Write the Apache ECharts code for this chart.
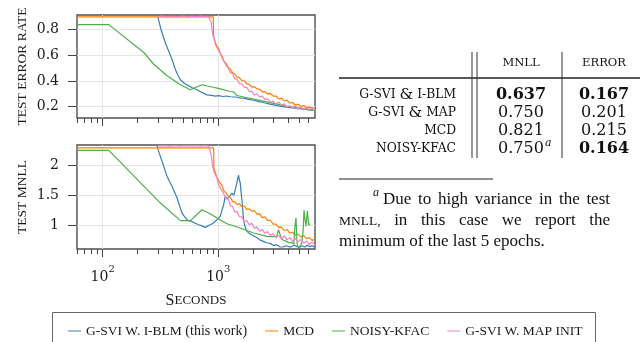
<!DOCTYPE html>
<html><head><meta charset="utf-8">
<script src="https://cdn.jsdelivr.net/npm/echarts@6/dist/echarts.min.js"></script>
<style>html,body{margin:0;padding:0;background:#fff}#c{width:640px;height:342px}</style>
</head><body><div id="c"></div>
<script>
// ---------- data ----------
const seriesNames = ['G-SVI W. I-BLM (this work)', 'MCD', 'NOISY-KFAC', 'G-SVI W. MAP INIT'];
const seriesColors = ['#377eb8', '#ff7f00', '#4daf4a', '#f781bf'];
const legendColors = ['#9bbedb', '#ffbf80', '#a6d7a4', '#fbc0df'];
const xTickMajor = [100, 1000];
const xTickMinor = [60, 70, 80, 90, 200, 300, 400, 500, 600, 700, 800, 900, 2000, 3000, 4000, 5000, 6000];
const errTicks = [0.2, 0.4, 0.6, 0.8];
const mnllTicks = [1, 1.5, 2];

const iblmErr = [[300,0.90],[320,0.80],[349,0.696],[370,0.64],[399,0.565],[426,0.487],[450,0.44],[470,0.409],[510,0.38],[555,0.362],[600,0.345],[655,0.331],[720,0.31],[798,0.291],[870,0.287],[950,0.281],[1003,0.285],[1100,0.278],[1180,0.282],[1268,0.276],[1400,0.274],[1520,0.268],[1652,0.265],[1800,0.258],[2015,0.249],[2250,0.238],[2500,0.229],[2800,0.219],[3210,0.207],[3600,0.199],[4000,0.193],[4400,0.188],[4770,0.186],[5200,0.181],[5600,0.178],[6000,0.175],[6400,0.172],[6700,0.171]];
const mcdErr = [[60,0.9],[905,0.9],[912,0.74],[940,0.704],[970,0.672],[1000,0.656],[1040,0.613],[1080,0.592],[1120,0.554],[1170,0.535],[1220,0.503],[1270,0.493],[1330,0.464],[1390,0.453],[1450,0.429],[1520,0.425],[1600,0.402],[1680,0.40],[1760,0.377],[1850,0.374],[1950,0.352],[2050,0.355],[2160,0.338],[2280,0.335],[2400,0.314],[2530,0.316],[2670,0.298],[2820,0.301],[2980,0.281],[3150,0.282],[3330,0.26],[3520,0.264],[3720,0.244],[3930,0.249],[4150,0.227],[4390,0.231],[4640,0.21],[4900,0.218],[5180,0.199],[5480,0.208],[5790,0.187],[6120,0.195],[6470,0.189],[6850,0.176]];
const kfacErr = [[60,0.84],[113,0.84],[227,0.622],[277,0.53],[361,0.44],[470,0.37],[574,0.331],[640,0.35],[722,0.37],[800,0.36],[881,0.352],[1000,0.342],[1268,0.317],[1355,0.314],[1450,0.286],[1700,0.272],[2015,0.258],[2500,0.24],[3210,0.219],[4000,0.2],[5090,0.187],[6200,0.174],[6600,0.17]];
const mapErr = [[304,0.902],[330,0.906],[360,0.899],[400,0.904],[450,0.9],[500,0.907],[550,0.9],[600,0.905],[650,0.901],[700,0.906],[760,0.902],[820,0.905],[853,0.9],[868,0.86],[880,0.81],[900,0.752],[920,0.736],[945,0.683],[970,0.679],[1000,0.641],[1040,0.621],[1080,0.578],[1120,0.563],[1170,0.52],[1220,0.498],[1270,0.465],[1330,0.457],[1390,0.416],[1450,0.414],[1520,0.379],[1600,0.377],[1680,0.349],[1760,0.35],[1850,0.317],[1950,0.32],[2050,0.29],[2160,0.299],[2280,0.274],[2400,0.281],[2530,0.256],[2670,0.26],[2820,0.233],[2980,0.241],[3150,0.219],[3330,0.234],[3520,0.211],[3720,0.22],[3930,0.194],[4150,0.207],[4390,0.188],[4640,0.206],[4900,0.178],[5180,0.196],[5480,0.172],[5790,0.199],[6120,0.173],[6470,0.194],[6850,0.174]];

const iblmMnll = [[295,2.34],[310,2.2],[327,2.073],[345,1.93],[361,1.82],[380,1.73],[399,1.65],[420,1.55],[440,1.455],[462,1.33],[486,1.20],[510,1.14],[537,1.089],[560,1.07],[590,1.06],[630,1.03],[677,1.005],[720,0.985],[773,0.96],[810,0.985],[853,1.005],[900,1.03],[975,1.089],[1010,1.12],[1040,1.15],[1060,1.2],[1077,1.258],[1110,1.33],[1148,1.482],[1190,1.44],[1227,1.427],[1270,1.5],[1312,1.54],[1360,1.50],[1402,1.595],[1450,1.72],[1480,1.80],[1500,1.84],[1520,1.76],[1549,1.708],[1575,1.55],[1600,1.427],[1630,1.25],[1652,1.089],[1700,0.98],[1766,0.892],[1850,0.86],[1950,0.83],[2015,0.808],[2150,0.79],[2300,0.745],[2455,0.723],[2600,0.70],[2800,0.69],[3000,0.655],[3200,0.665],[3400,0.632],[3630,0.629],[3900,0.65],[4200,0.625],[4500,0.66],[4770,0.638],[5000,0.62],[5300,0.65],[5600,0.628],[5900,0.658],[6210,0.632],[6500,0.652],[6750,0.63]];
const mcdMnll = [[60,2.30],[912,2.30],[916,1.96],[940,1.89],[970,1.805],[1000,1.78],[1040,1.70],[1080,1.665],[1120,1.57],[1170,1.542],[1220,1.482],[1270,1.468],[1330,1.396],[1390,1.395],[1450,1.342],[1520,1.36],[1600,1.308],[1680,1.321],[1760,1.265],[1850,1.274],[1950,1.23],[2050,1.245],[2160,1.184],[2280,1.187],[2400,1.125],[2530,1.138],[2670,1.078],[2820,1.08],[2980,1.015],[3150,1.016],[3330,0.955],[3520,0.964],[3720,0.907],[3930,0.92],[4150,0.868],[4390,0.878],[4640,0.825],[4900,0.845],[5180,0.799],[5480,0.82],[5790,0.771],[6120,0.788],[6470,0.74],[6850,0.762]];
const kfacMnll = [[60,2.258],[113,2.258],[316,1.37],[470,1.073],[574,1.073],[722,1.258],[850,1.19],[975,1.118],[1188,1.022],[1549,0.949],[2015,0.865],[2630,0.808],[3000,0.805],[3207,0.81],[3311,0.92],[3420,0.95],[3540,0.76],[3700,0.74],[3910,0.72],[4100,0.70],[4320,0.705],[4500,0.68],[4610,1.0],[4700,1.12],[4780,0.75],[4830,0.65],[5020,0.61],[5150,0.66],[5270,0.70],[5420,0.9],[5510,1.25],[5620,1.1],[5740,0.98],[5890,1.24],[6050,1.0],[6210,1.02]];
const mapMnll = [[304,2.335],[340,2.34],[380,2.332],[420,2.338],[470,2.333],[520,2.34],[580,2.334],[640,2.339],[700,2.333],[760,2.338],[820,2.335],[850,2.33],[866,2.2],[880,2.10],[900,1.955],[920,1.95],[945,1.84],[970,1.805],[1000,1.69],[1040,1.678],[1080,1.573],[1120,1.56],[1170,1.445],[1220,1.435],[1270,1.33],[1330,1.31],[1390,1.215],[1450,1.23],[1520,1.142],[1600,1.137],[1680,1.05],[1760,1.075],[1850,1.005],[1950,1.03],[2050,0.945],[2160,0.968],[2280,0.895],[2400,0.925],[2530,0.86],[2670,0.89],[2820,0.823],[2980,0.855],[3150,0.785],[3330,0.825],[3520,0.767],[3720,0.815],[3930,0.75],[4150,0.787],[4390,0.725],[4640,0.773],[4900,0.715],[5180,0.757],[5480,0.695],[5790,0.73],[6120,0.67],[6470,0.715],[6850,0.66]];

const tableHeader = ['MNLL', 'ERROR'];
const tableRows = [['G-SVI ', ' I-BLM'], ['G-SVI ', ' MAP'], ['MCD', null], ['NOISY-KFAC', null]];
const tableMnll = ['0.637', '0.750', '0.821', '0.750'];
const tableMnllNote = [null, null, null, 'a'];
const tableError = ['0.167', '0.201', '0.215', '0.164'];
const boldMnll = [true, false, false, false];
const boldError = [true, false, false, true];
const footLine1 = ['Due', 'to', 'high', 'variance', 'in', 'the', 'test'];
const footLine2 = ['MNLL,', 'in', 'this', 'case', 'we', 'report', 'the'];
const footLine3 = 'minimum of the last 5 epochs.';

// ---------- build ----------
const SERIF = 'DejaVu Serif';
const TIMES = 'Liberation Serif';
const xMin = 60, xMax = 6860;
const TXT = '#1a1a1a';
const GRIDC = '#e6e6e6';
const TICKC = '#444';

function xAxisMajor(gi, showLabel) {
  const a = {
    type: 'log', logBase: 10, gridIndex: gi, min: xMin, max: xMax, position: 'bottom',
    axisLine: { show: false },
    axisTick: { show: true, inside: false, length: 8, customValues: xTickMajor, lineStyle: { color: TICKC, width: 1 } },
    axisLabel: { show: showLabel, customValues: xTickMajor, margin: 15,
      formatter: v => '{b|10}{s|' + Math.round(Math.log10(v)) + '}',
      rich: { b: { fontFamily: SERIF, fontSize: 14, color: TXT, lineHeight: 20, verticalAlign: 'bottom' },
              s: { fontFamily: SERIF, fontSize: 10, color: TXT, lineHeight: 12, verticalAlign: 'top' } } },
    splitLine: { show: true, lineStyle: { color: GRIDC, width: 1 } },
    minorTick: { show: false }, minorSplitLine: { show: false }
  };
  if (showLabel) {
    a.name = '{a|S}{b|ECONDS}';
    a.nameLocation = 'middle';
    a.nameGap = 44;
    a.nameTextStyle = { rich: { a: { fontFamily: TIMES, fontSize: 16, color: TXT }, b: { fontFamily: TIMES, fontSize: 13, color: TXT } } };
  }
  return a;
}
function xAxisMinor(gi) {
  return {
    type: 'log', logBase: 10, gridIndex: gi, min: xMin, max: xMax, position: 'bottom',
    axisLine: { show: false },
    axisTick: { show: true, inside: false, length: 5, customValues: xTickMinor, lineStyle: { color: TICKC, width: 1 } },
    axisLabel: { show: false }, splitLine: { show: false }
  };
}
function yAxis(gi, min, max, ticks, name, fmt) {
  return {
    type: 'value', gridIndex: gi, min, max,
    axisLine: { show: false },
    axisTick: { show: true, inside: false, length: 9, customValues: ticks, lineStyle: { color: TICKC, width: 1 } },
    axisLabel: { customValues: ticks, margin: 18, fontFamily: SERIF, fontSize: 14, color: TXT, formatter: fmt },
    splitLine: { show: true, lineStyle: { color: GRIDC, width: 1 } },
    name, nameLocation: 'middle', nameGap: 48,
    nameTextStyle: { fontFamily: TIMES, fontSize: 13.5, color: TXT }
  };
}
function mk(name, data, gi, color) {
  return { type: 'line', name, data, xAxisIndex: gi * 2, yAxisIndex: gi, showSymbol: false, symbol: 'none',
    lineStyle: { width: 1.2, color }, itemStyle: { color }, animation: false, silent: true, clip: true };
}
const errData = [iblmErr, mcdErr, kfacErr, mapErr];
const mnllData = [iblmMnll, mcdMnll, kfacMnll, mapMnll];
const series = [];
for (let i = 0; i < 4; i++) series.push(mk(seriesNames[i], errData[i], 0, seriesColors[i]));
for (let i = 0; i < 4; i++) series.push(mk(seriesNames[i], mnllData[i], 1, seriesColors[i]));

// ---------- table & footnote graphics ----------
const g = [];
const cv = document.createElement('canvas').getContext('2d');
function measure(text, font) { cv.font = font; return cv.measureText(text).width; }
function txt(x, y, text, o) {
  return Object.assign({ type: 'text', x, y, silent: true, z: 10,
    style: Object.assign({ text, fill: '#111', fontFamily: SERIF, fontSize: 16,
      align: 'center', verticalAlign: 'middle', textAlign: 'center', textVerticalAlign: 'middle' }, o || {}) });
}
function line(x1, y1, x2, y2, w, c) {
  return { type: 'line', silent: true, z: 10, shape: { x1, y1, x2, y2 }, style: { stroke: c || '#222', lineWidth: w || 1 } };
}
const colX = [521, 604];
const rowY = [95, 113, 131, 149];
g.push(txt(colX[0], 63, tableHeader[0], { fontSize: 11.5 }));
g.push(txt(colX[1], 63, tableHeader[1], { fontSize: 11.5 }));
g.push(line(339, 78, 640, 78, 1.4, '#222'));
g.push(line(472, 52, 472, 158, 1, '#333'));
g.push(line(477, 52, 477, 158, 1, '#333'));
g.push(line(562, 52, 562, 158, 1, '#333'));
const richLab = { sc: { fontFamily: SERIF, fontSize: 12.3, fill: '#111', color: '#111' }, amp: { fontFamily: SERIF, fontSize: 15.5, fill: '#111', color: '#111' } };
tableRows.forEach((r, i) => {
  const t = r[1] ? '{sc|' + r[0] + '}{amp|&}{sc|' + r[1] + '}' : '{sc|' + r[0] + '}';
  g.push(txt(456, rowY[i], t, { align: 'right', textAlign: 'right', rich: richLab }));
  const w = boldMnll[i] ? 'bold' : 'normal';
  g.push(txt(colX[0], rowY[i], tableMnll[i], { fontWeight: w }));
  if (tableMnllNote[i]) {
    const half = measure(tableMnll[i], w + ' 16px "DejaVu Serif"') / 2;
    g.push(txt(colX[0] + half + 1, rowY[i] - 6, tableMnllNote[i], { fontSize: 11, fontStyle: 'italic', align: 'left', textAlign: 'left' }));
  }
  g.push(txt(colX[1], rowY[i], tableError[i], { fontWeight: boldError[i] ? 'bold' : 'normal' }));
});
// footnote
g.push(line(339, 179, 493, 179, 1, '#222'));
function justify(words, fonts, x0, x1, y) {
  const ws = words.map((w, i) => measure(w, fonts[i]));
  const tot = ws.reduce((a, b) => a + b, 0);
  const gap = (x1 - x0 - tot) / (words.length - 1);
  let x = x0;
  words.forEach((w, i) => {
    const fsz = parseFloat(fonts[i]);
    g.push(txt(x, y, w, { fontFamily: TIMES, fontSize: fsz, align: 'left', textAlign: 'left' }));
    x += ws[i] + gap;
  });
}
const F17 = '17px "Liberation Serif"';
const F13 = '13.5px "Liberation Serif"';
g.push(txt(373, 193, 'a', { fontFamily: TIMES, fontSize: 12, fontStyle: 'italic', align: 'left', textAlign: 'left' }));
justify(footLine1, footLine1.map(() => F17), 383, 610, 200);
justify(footLine2, footLine2.map((w, i) => i === 0 ? F13 : F17), 339, 610, 221);
g.push(txt(339, 242, footLine3, { fontFamily: TIMES, fontSize: 17, align: 'left', textAlign: 'left' }));
// legend box
g.push({ type: 'rect', silent: true, z: 1, shape: { x: 52.5, y: 312.5, width: 543, height: 40 }, style: { fill: 'none', stroke: '#666', lineWidth: 1 } });

const option = {
  animation: false,
  backgroundColor: '#fff',
  grid: [
    { left: 77, top: 15, width: 238, height: 103, show: true, borderColor: '#505050', borderWidth: 1.4, backgroundColor: 'rgba(0,0,0,0)' },
    { left: 77, top: 145, width: 238, height: 104, show: true, borderColor: '#505050', borderWidth: 1.4, backgroundColor: 'rgba(0,0,0,0)' }
  ],
  xAxis: [xAxisMajor(0, false), xAxisMinor(0), xAxisMajor(1, true), xAxisMinor(1)],
  yAxis: [
    yAxis(0, 0.11, 0.915, errTicks, 'TEST ERROR RATE', v => v.toFixed(1)),
    yAxis(1, 0.595, 2.35, mnllTicks, 'TEST MNLL', v => String(v))
  ],
  legend: {
    left: 63, top: 319, icon: 'rect', itemWidth: 13, itemHeight: 2, itemGap: 18, selectedMode: false,
    formatter: n => {
      const k = n.indexOf(' (');
      return k >= 0 ? '{c|' + n.slice(0, k) + '}{n|' + n.slice(k) + '}' : '{c|' + n + '}';
    },
    textStyle: { fontFamily: TIMES, fontSize: 14, color: TXT,
      rich: { c: { fontFamily: TIMES, fontSize: 13.5, color: TXT }, n: { fontFamily: TIMES, fontSize: 14, color: TXT } } },
    data: seriesNames.map((n, i) => ({ name: n, itemStyle: { color: legendColors[i] } }))
  },
  series,
  graphic: { elements: g }
};
const chart = echarts.init(document.getElementById('c'));
chart.setOption(option);
</script></body></html>
